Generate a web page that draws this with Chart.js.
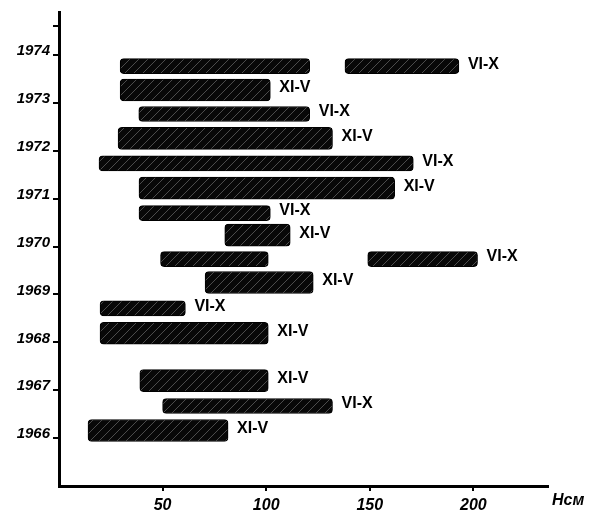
<!DOCTYPE html>
<html>
<head>
<meta charset="utf-8">
<script src="https://cdn.jsdelivr.net/npm/chart.js@4.4.1/dist/chart.umd.min.js"></script>
<style>
  body { margin: 0; background: #fff; }
  #wrap { width: 599px; height: 520px; }
</style>
</head>
<body>
<div id="wrap"><canvas id="seasonChart"></canvas></div>
<script>
// year ticks on the vertical axis
var years = [1966, 1967, 1968, 1969, 1970, 1971, 1972, 1973, 1974];

// VI-X (summer) bars: position on the year axis, start and end (H)
var summerPos   = [1973.77, 1973.77, 1972.77, 1971.74, 1970.70, 1969.74, 1969.74, 1968.71, 1966.67];
var summerStart = [29.5, 138, 38.5, 19.3, 38.6, 49, 149, 19.8, 50];
var summerEnd   = [121, 193, 121, 171, 102, 101, 202, 61, 132];

// XI-V (winter) bars
var winterPos   = [1973.27, 1972.26, 1971.22, 1970.24, 1969.25, 1968.19, 1967.20, 1966.16];
var winterStart = [29.5, 28.5, 38.6, 80, 70.5, 19.8, 39, 14];
var winterEnd   = [102, 132, 162, 111.6, 122.7, 101, 101, 81.6];

var seasonNames = ['VI-X', 'XI-V'];

function toPoints(pos, start, end){
    return pos.map(function(p, i){
        return {x: [start[i], end[i]], y: p};
    });
}

// scribbled texture for the bars
function makePattern(){
    var c = document.createElement('canvas');
    c.width = 9; c.height = 9;
    var g = c.getContext('2d');
    g.fillStyle = '#080808';
    g.fillRect(0, 0, 9, 9);
    g.strokeStyle = 'rgba(255,255,255,0.28)';
    g.lineWidth = 1;
    g.beginPath();
    g.moveTo(0, 9); g.lineTo(9, 0);
    g.stroke();
    return g.createPattern(c, 'repeat');
}
var fill = makePattern();

var barLabels = {
    id: 'barLabels',
    afterDatasetsDraw: function(chart){
        var ctx = chart.ctx;
        ctx.save();
        ctx.fillStyle = '#000';
        ctx.font = 'bold 16px "Liberation Sans", Arial, sans-serif';
        ctx.textBaseline = 'middle';
        ctx.textAlign = 'left';
        chart.data.datasets.forEach(function(ds, di){
            var meta = chart.getDatasetMeta(di);
            ds.data.forEach(function(pt, i){
                // label only the rightmost bar of a row
                var last = ds.data.every(function(o){
                    return o.y !== pt.y || o.x[1] <= pt.x[1];
                });
                if(!last){ return; }
                var el = meta.data[i];
                var right = Math.max(el.x, el.base);
                ctx.fillText(ds.label, right + 9, el.y - 2);
            });
        });
        ctx.restore();
    }
};

var axisTitle = {
    id: 'axisTitle',
    afterDraw: function(chart){
        var ctx = chart.ctx;
        var area = chart.chartArea;
        ctx.save();
        ctx.fillStyle = '#000';
        ctx.font = 'bold italic 16px "Liberation Sans", Arial, sans-serif';
        ctx.textBaseline = 'middle';
        ctx.textAlign = 'left';
        ctx.fillText('Hсм', area.right + 4, area.bottom + 15);
        ctx.restore();
    }
};

var canvas = document.getElementById('seasonChart').getContext('2d');
var chart = new Chart(canvas, {
    type: 'bar',
    data: {
        datasets: [
            {
                label: seasonNames[0],
                data: toPoints(summerPos, summerStart, summerEnd),
                backgroundColor: fill,
                borderColor: '#000',
                borderWidth: 1,
                borderRadius: 4,
                borderSkipped: false,
                barThickness: 15,
                grouped: false
            },
            {
                label: seasonNames[1],
                data: toPoints(winterPos, winterStart, winterEnd),
                backgroundColor: fill,
                borderColor: '#000',
                borderWidth: 1,
                borderRadius: 4,
                borderSkipped: false,
                barThickness: 22,
                grouped: false
            }
        ]
    },
    options: {
        indexAxis: 'y',
        responsive: true,
        maintainAspectRatio: false,
        animation: false,
        layout: { padding: { top: 8, right: 51, left: 0, bottom: 0 } },
        plugins: {
            legend: { display: false },
            tooltip: { enabled: false }
        },
        scales: {
            x: {
                type: 'linear',
                min: 0,
                max: 236,
                afterBuildTicks: function(scale){
                    scale.ticks = [50, 100, 150, 200].map(function(v){ return {value: v}; });
                },
                ticks: {
                    color: '#000',
                    padding: 5,
                    font: { family: '"Liberation Sans", Arial, sans-serif', size: 16, weight: 'bold', style: 'italic' }
                },
                grid: { drawOnChartArea: false, drawTicks: true, tickLength: 5, color: '#000', lineWidth: 2 },
                border: { display: true, color: '#000', width: 3 },
                afterFit: function(scale){ scale.height = 34; }
            },
            y: {
                type: 'linear',
                offset: false,
                min: 1965,
                max: 1974.9,
                afterBuildTicks: function(scale){
                    scale.ticks = years.concat([1974.6]).map(function(v){ return {value: v}; });
                },
                ticks: {
                    color: '#000',
                    padding: 3,
                    labelOffset: -4,
                    callback: function(v){ return Number.isInteger(v) ? String(v) : ''; },
                    font: { family: '"Liberation Sans", Arial, sans-serif', size: 15, weight: 'bold', style: 'italic' }
                },
                grid: { offset: false, drawOnChartArea: false, drawTicks: true, tickLength: 6, color: '#000', lineWidth: 2 },
                border: { display: true, color: '#000', width: 3 },
                afterFit: function(scale){ scale.width = 59; }
            }
        }
    },
    plugins: [barLabels, axisTitle]
});
</script>
</body>
</html>
